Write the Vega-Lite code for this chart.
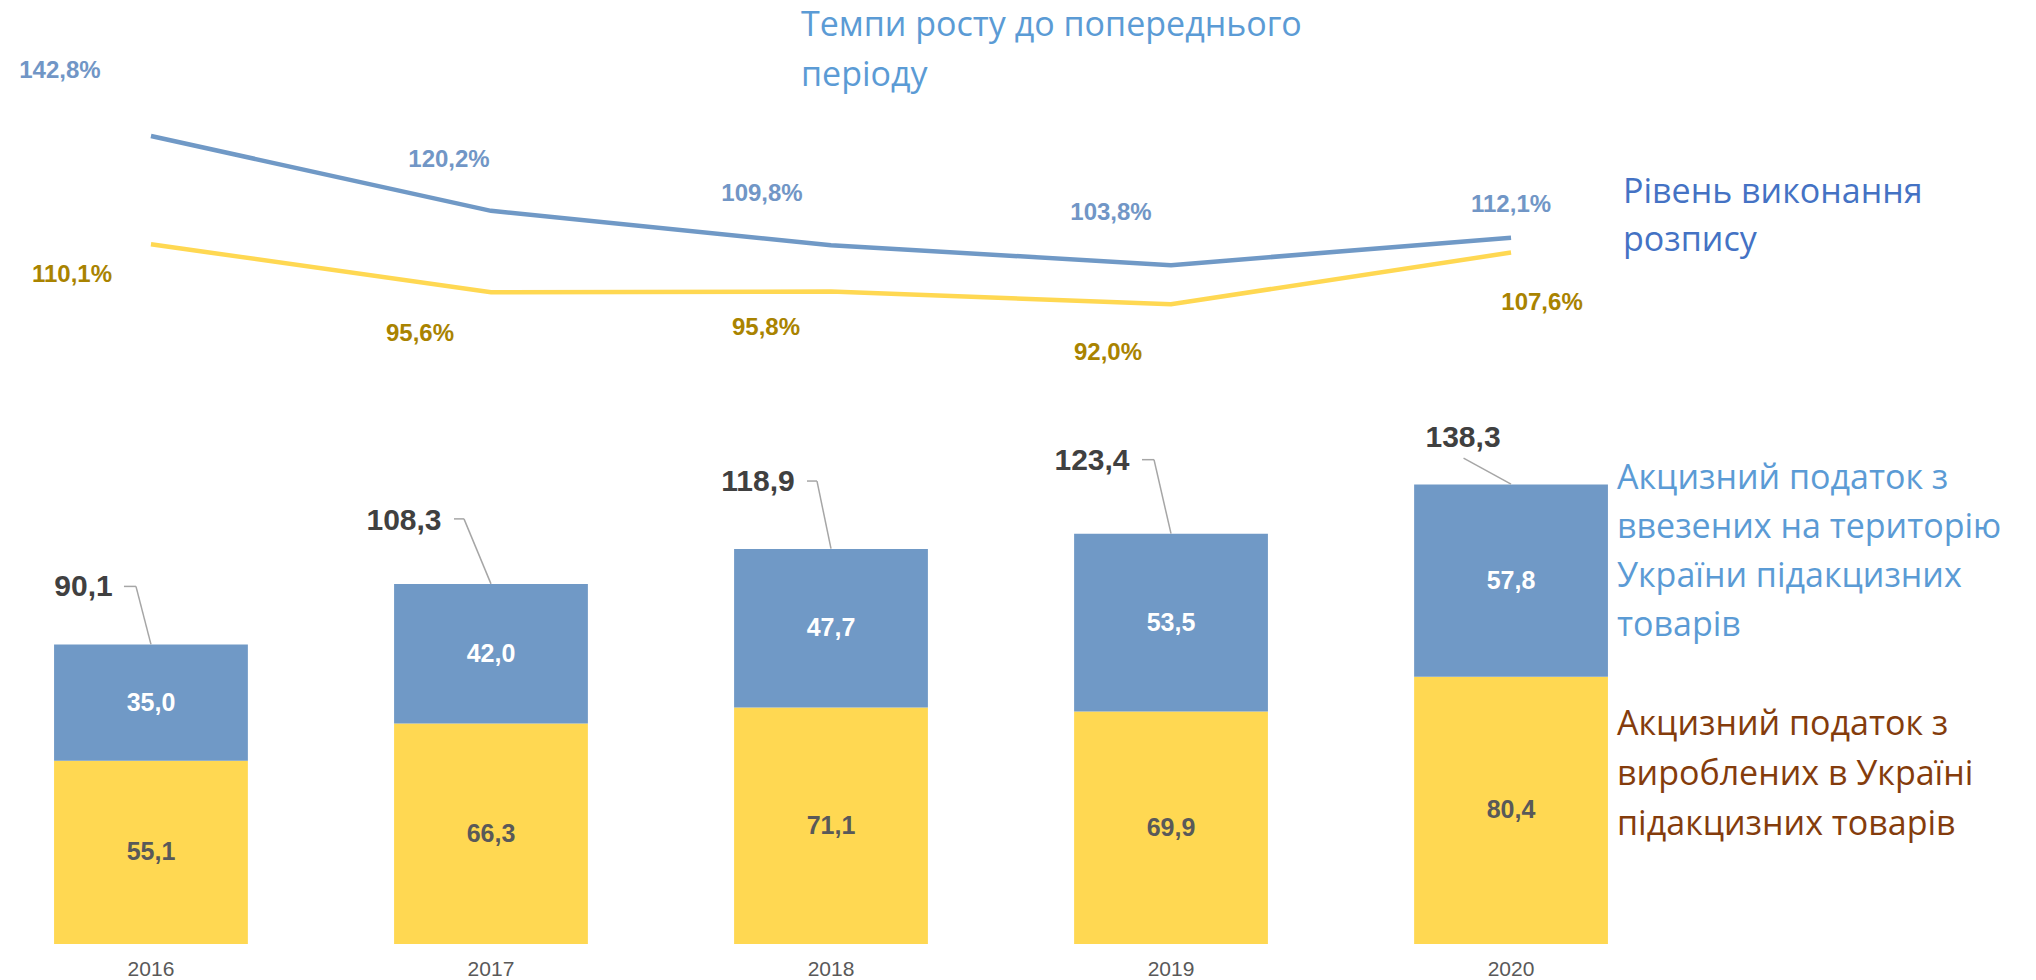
{
  "$schema": "https://vega.github.io/schema/vega-lite/v6.json",
  "autosize": {"type": "none"},
  "padding": {"left": 0, "top": 0, "right": 374, "bottom": 36},
  "width": 1662,
  "height": 944,
  "background": "white",
  "config": {
    "view": {"stroke": null},
    "locale": {"number": {"decimal": ",", "thousands": " ", "grouping": [3], "currency": ["", ""]}}
  },
  "datasets": {
    "bars": [
      {"year": "2016", "type": "вироблені в Україні", "value": 55.1},
      {"year": "2016", "type": "ввезені на територію України", "value": 35.0},
      {"year": "2017", "type": "вироблені в Україні", "value": 66.3},
      {"year": "2017", "type": "ввезені на територію України", "value": 42.0},
      {"year": "2018", "type": "вироблені в Україні", "value": 71.1},
      {"year": "2018", "type": "ввезені на територію України", "value": 47.7},
      {"year": "2019", "type": "вироблені в Україні", "value": 69.9},
      {"year": "2019", "type": "ввезені на територію України", "value": 53.5},
      {"year": "2020", "type": "вироблені в Україні", "value": 80.4},
      {"year": "2020", "type": "ввезені на територію України", "value": 57.8}
    ],
    "totals": [
      {"year": "2016", "total": 90.1},
      {"year": "2017", "total": 108.3},
      {"year": "2018", "total": 118.9},
      {"year": "2019", "total": 123.4},
      {"year": "2020", "total": 138.3}
    ],
    "rates": [
      {"year": "2016", "series": "Темпи росту", "rate": 1.428},
      {"year": "2017", "series": "Темпи росту", "rate": 1.202},
      {"year": "2018", "series": "Темпи росту", "rate": 1.098},
      {"year": "2019", "series": "Темпи росту", "rate": 1.038},
      {"year": "2020", "series": "Темпи росту", "rate": 1.121},
      {"year": "2016", "series": "Рівень виконання", "rate": 1.101},
      {"year": "2017", "series": "Рівень виконання", "rate": 0.956},
      {"year": "2018", "series": "Рівень виконання", "rate": 0.958},
      {"year": "2019", "series": "Рівень виконання", "rate": 0.920},
      {"year": "2020", "series": "Рівень виконання", "rate": 1.076}
    ]
  },
  "encoding": {
    "x": {
      "field": "year",
      "type": "nominal",
      "scale": {"paddingInner": 0.43, "paddingOuter": 0.159},
      "axis": {
        "title": null,
        "ticks": false,
        "domain": false,
        "labelAngle": 0,
        "labelFont": "Liberation Sans",
        "labelFontSize": 21,
        "labelColor": "#595959",
        "labelPadding": 14
      }
    }
  },
  "resolve": {"scale": {"y": "independent", "color": "independent"}},
  "layer": [
    {
      "data": {"name": "bars"},
      "mark": {"type": "bar"},
      "encoding": {
        "y": {"field": "value", "type": "quantitative", "stack": "zero", "scale": {"domain": [0, 283.9], "nice": false}, "axis": null},
        "color": {"field": "type", "type": "nominal", "scale": {"domain": ["вироблені в Україні", "ввезені на територію України"], "range": ["#FFD852", "#7099C6"]}, "legend": null},
        "order": {"field": "type", "sort": "descending"}
      }
    },
    {
      "data": {"name": "bars"},
      "mark": {"type": "text", "font": "Liberation Sans", "fontWeight": "bold", "fontSize": 25, "align": "center", "baseline": "middle"},
      "encoding": {
        "y": {"field": "value", "type": "quantitative", "stack": "zero", "bandPosition": 0.5, "scale": {"domain": [0, 283.9], "nice": false}, "axis": null},
        "text": {"field": "value", "type": "quantitative", "format": ".1f"},
        "color": {"field": "type", "type": "nominal", "scale": {"domain": ["вироблені в Україні", "ввезені на територію України"], "range": ["#595959", "#FFFFFF"]}, "legend": null},
        "order": {"field": "type", "sort": "descending"}
      }
    },
    {
      "data": {"name": "rates"},
      "mark": {"type": "line", "strokeWidth": 4.5},
      "encoding": {
        "y": {"field": "rate", "type": "quantitative", "scale": {"domain": [-1.013, 1.839], "nice": false, "zero": false}, "axis": null},
        "color": {"field": "series", "type": "nominal", "scale": {"domain": ["Темпи росту", "Рівень виконання"], "range": ["#7099C6", "#FFD852"]}, "legend": null}
      }
    },
    {
      "data": {"name": "rates"},
      "transform": [{"filter": "datum.series === 'Темпи росту'"}],
      "encoding": {
        "y": {"field": "rate", "type": "quantitative", "scale": {"domain": [-1.013, 1.839], "nice": false, "zero": false}, "axis": null},
        "text": {"field": "rate", "type": "quantitative", "format": ".1%"}
      },
      "layer": [
        {"transform": [{"filter": "datum.year === '2016'"}], "mark": {"type": "text", "font": "Liberation Sans", "fontWeight": "bold", "fontSize": 24, "color": "#7196C6", "dx": -91, "dy": -65}},
        {"transform": [{"filter": "datum.year === '2017'"}], "mark": {"type": "text", "font": "Liberation Sans", "fontWeight": "bold", "fontSize": 24, "color": "#7196C6", "dx": -42, "dy": -51}},
        {"transform": [{"filter": "datum.year === '2018'"}], "mark": {"type": "text", "font": "Liberation Sans", "fontWeight": "bold", "fontSize": 24, "color": "#7196C6", "dx": -69, "dy": -51}},
        {"transform": [{"filter": "datum.year === '2019'"}], "mark": {"type": "text", "font": "Liberation Sans", "fontWeight": "bold", "fontSize": 24, "color": "#7196C6", "dx": -60, "dy": -52}},
        {"transform": [{"filter": "datum.year === '2020'"}], "mark": {"type": "text", "font": "Liberation Sans", "fontWeight": "bold", "fontSize": 24, "color": "#7196C6", "dx": 0, "dy": -33}}
      ]
    },
    {
      "data": {"name": "rates"},
      "transform": [{"filter": "datum.series === 'Рівень виконання'"}],
      "encoding": {
        "y": {"field": "rate", "type": "quantitative", "scale": {"domain": [-1.013, 1.839], "nice": false, "zero": false}, "axis": null},
        "text": {"field": "rate", "type": "quantitative", "format": ".1%"}
      },
      "layer": [
        {"transform": [{"filter": "datum.year === '2016'"}], "mark": {"type": "text", "font": "Liberation Sans", "fontWeight": "bold", "fontSize": 24, "color": "#A98300", "dx": -79, "dy": 31}},
        {"transform": [{"filter": "datum.year === '2017'"}], "mark": {"type": "text", "font": "Liberation Sans", "fontWeight": "bold", "fontSize": 24, "color": "#A98300", "dx": -71, "dy": 42}},
        {"transform": [{"filter": "datum.year === '2018'"}], "mark": {"type": "text", "font": "Liberation Sans", "fontWeight": "bold", "fontSize": 24, "color": "#A98300", "dx": -65, "dy": 36}},
        {"transform": [{"filter": "datum.year === '2019'"}], "mark": {"type": "text", "font": "Liberation Sans", "fontWeight": "bold", "fontSize": 24, "color": "#A98300", "dx": -63, "dy": 49}},
        {"transform": [{"filter": "datum.year === '2020'"}], "mark": {"type": "text", "font": "Liberation Sans", "fontWeight": "bold", "fontSize": 24, "color": "#A98300", "dx": 31, "dy": 50}}
      ]
    },
    {
      "data": {"name": "totals"},
      "encoding": {
        "y": {"field": "total", "type": "quantitative", "scale": {"domain": [0, 283.9], "nice": false, "zero": false}, "axis": null},
        "y2": {"field": "total"},
        "x2": {"field": "year"}
      },
      "layer": [
        {"transform": [{"filter": "datum.year === '2016'"}], "mark": {"type": "rule", "color": "#A6A6A6", "strokeWidth": 1.5, "x2Offset": -15, "y2Offset": -58}},
        {"transform": [{"filter": "datum.year === '2016'"}], "mark": {"type": "rule", "color": "#A6A6A6", "strokeWidth": 1.5, "xOffset": -15, "yOffset": -58, "x2Offset": -27, "y2Offset": -58}},
        {"transform": [{"filter": "datum.year === '2017'"}], "mark": {"type": "rule", "color": "#A6A6A6", "strokeWidth": 1.5, "x2Offset": -27, "y2Offset": -65}},
        {"transform": [{"filter": "datum.year === '2017'"}], "mark": {"type": "rule", "color": "#A6A6A6", "strokeWidth": 1.5, "xOffset": -27, "yOffset": -65, "x2Offset": -37, "y2Offset": -65}},
        {"transform": [{"filter": "datum.year === '2018'"}], "mark": {"type": "rule", "color": "#A6A6A6", "strokeWidth": 1.5, "x2Offset": -14, "y2Offset": -67.6}},
        {"transform": [{"filter": "datum.year === '2018'"}], "mark": {"type": "rule", "color": "#A6A6A6", "strokeWidth": 1.5, "xOffset": -14, "yOffset": -67.6, "x2Offset": -24, "y2Offset": -67.6}},
        {"transform": [{"filter": "datum.year === '2019'"}], "mark": {"type": "rule", "color": "#A6A6A6", "strokeWidth": 1.5, "x2Offset": -17, "y2Offset": -74}},
        {"transform": [{"filter": "datum.year === '2019'"}], "mark": {"type": "rule", "color": "#A6A6A6", "strokeWidth": 1.5, "xOffset": -17, "yOffset": -74, "x2Offset": -29, "y2Offset": -74}},
        {"transform": [{"filter": "datum.year === '2020'"}], "mark": {"type": "rule", "color": "#A6A6A6", "strokeWidth": 1.5, "x2Offset": -47.5, "y2Offset": -26}}
      ]
    },
    {
      "data": {"name": "totals"},
      "encoding": {
        "y": {"field": "total", "type": "quantitative", "scale": {"domain": [0, 283.9], "nice": false, "zero": false}, "axis": null},
        "text": {"field": "total", "type": "quantitative", "format": ".1f"}
      },
      "layer": [
        {"transform": [{"filter": "datum.year === '2016'"}], "mark": {"type": "text", "font": "Liberation Sans", "fontWeight": "bold", "fontSize": 30, "color": "#404040", "dx": -67.5, "dy": -57}},
        {"transform": [{"filter": "datum.year === '2017'"}], "mark": {"type": "text", "font": "Liberation Sans", "fontWeight": "bold", "fontSize": 30, "color": "#404040", "dx": -87, "dy": -63}},
        {"transform": [{"filter": "datum.year === '2018'"}], "mark": {"type": "text", "font": "Liberation Sans", "fontWeight": "bold", "fontSize": 30, "color": "#404040", "dx": -73, "dy": -67}},
        {"transform": [{"filter": "datum.year === '2019'"}], "mark": {"type": "text", "font": "Liberation Sans", "fontWeight": "bold", "fontSize": 30, "color": "#404040", "dx": -79, "dy": -73}},
        {"transform": [{"filter": "datum.year === '2020'"}], "mark": {"type": "text", "font": "Liberation Sans", "fontWeight": "bold", "fontSize": 30, "color": "#404040", "dx": -48, "dy": -46}}
      ]
    },
    {
      "data": {"name": "rates"},
      "transform": [{"filter": "datum.series === 'Темпи росту' && datum.year === '2018'"}],
      "mark": {"type": "text", "text": ["Темпи росту до попереднього", "періоду"], "font": "Open Sans", "fontSize": 34, "color": "#5B9BD5", "align": "left", "baseline": "alphabetic", "lineHeight": 50, "dx": -30, "dy": -209},
      "encoding": {
        "y": {"field": "rate", "type": "quantitative", "scale": {"domain": [-1.013, 1.839], "nice": false, "zero": false}, "axis": null}
      }
    },
    {
      "data": {"name": "rates"},
      "transform": [{"filter": "datum.series === 'Рівень виконання' && datum.year === '2020'"}],
      "mark": {"type": "text", "text": ["Рівень виконання", "розпису"], "font": "Open Sans", "fontSize": 34, "color": "#4472C4", "align": "left", "baseline": "alphabetic", "lineHeight": 48, "dx": 112, "dy": -50},
      "encoding": {
        "y": {"field": "rate", "type": "quantitative", "scale": {"domain": [-1.013, 1.839], "nice": false, "zero": false}, "axis": null}
      }
    },
    {
      "data": {"name": "bars"},
      "transform": [{"filter": "datum.year === '2020'"}],
      "mark": {"type": "text", "font": "Open Sans", "fontSize": 34, "align": "left", "baseline": "middle", "lineHeight": 49, "dx": 106, "dy": -102, "color": "#5B9BD5"},
      "encoding": {
        "y": {"field": "value", "type": "quantitative", "stack": "zero", "bandPosition": 0.5, "scale": {"domain": [0, 283.9], "nice": false}, "axis": null},
        "order": {"field": "type", "sort": "descending"},
        "text": {
          "condition": {"test": "datum.type === 'ввезені на територію України'", "value": ["Акцизний податок з", "ввезених на територію", "України підакцизних", "товарів"]},
          "value": ""
        }
      }
    },
    {
      "data": {"name": "bars"},
      "transform": [{"filter": "datum.year === '2020'"}],
      "mark": {"type": "text", "font": "Open Sans", "fontSize": 34, "align": "left", "baseline": "middle", "lineHeight": 50, "dx": 106, "dy": -85, "color": "#843C0C"},
      "encoding": {
        "y": {"field": "value", "type": "quantitative", "stack": "zero", "bandPosition": 0.5, "scale": {"domain": [0, 283.9], "nice": false}, "axis": null},
        "order": {"field": "type", "sort": "descending"},
        "text": {
          "condition": {"test": "datum.type === 'вироблені в Україні'", "value": ["Акцизний податок з", "вироблених в Україні", "підакцизних товарів"]},
          "value": ""
        }
      }
    }
  ]
}
